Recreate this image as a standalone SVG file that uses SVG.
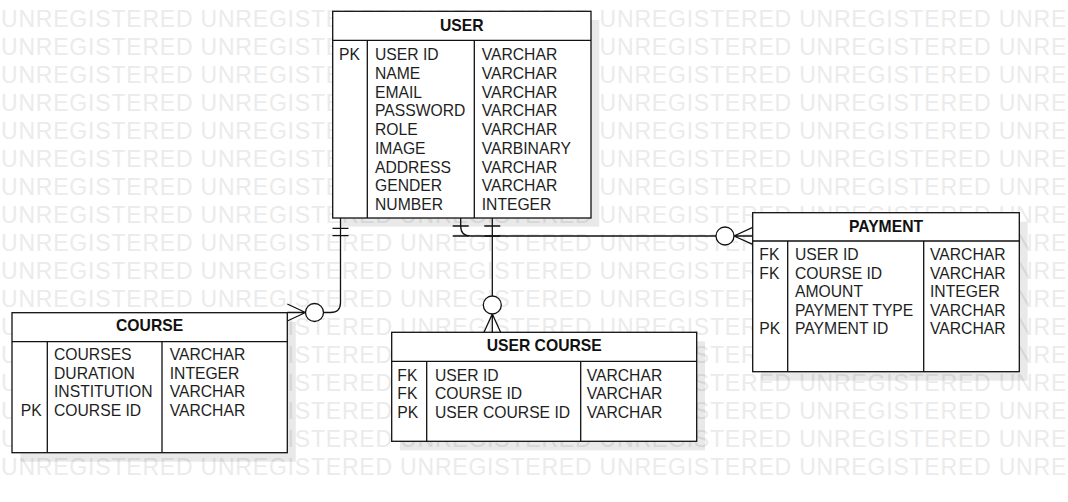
<svg xmlns="http://www.w3.org/2000/svg" width="1068" height="502" viewBox="0 0 1068 502">
<style>
.wm{font-family:"Liberation Sans",Arial,sans-serif;font-size:23px;fill:#ebebeb;letter-spacing:0.8px}
.box{fill:#fff;stroke:#111;stroke-width:1.3}
.ln{stroke:#111;stroke-width:1.3;fill:none}
.sh{fill:#000;fill-opacity:0.085}
.t{font-family:"Liberation Sans",Arial,sans-serif;font-size:15.7px;fill:#1e1e1e}
.h{font-family:"Liberation Sans",Arial,sans-serif;font-size:15.7px;font-weight:bold;fill:#111;text-anchor:middle}
.c{stroke:#111;stroke-width:1.3;fill:none}
.cc{stroke:#111;stroke-width:1.3;fill:#fff}
</style>
<rect width="1068" height="502" fill="#fff"/>
<g id="watermark">
<text class="wm" x="1" y="27">UNREGISTERED UNREGISTERED UNREGISTERED UNREGISTERED UNREGISTERED UNRE</text>
<text class="wm" x="1" y="55">UNREGISTERED UNREGISTERED UNREGISTERED UNREGISTERED UNREGISTERED UNRE</text>
<text class="wm" x="1" y="83">UNREGISTERED UNREGISTERED UNREGISTERED UNREGISTERED UNREGISTERED UNRE</text>
<text class="wm" x="1" y="111">UNREGISTERED UNREGISTERED UNREGISTERED UNREGISTERED UNREGISTERED UNRE</text>
<text class="wm" x="1" y="139">UNREGISTERED UNREGISTERED UNREGISTERED UNREGISTERED UNREGISTERED UNRE</text>
<text class="wm" x="1" y="167">UNREGISTERED UNREGISTERED UNREGISTERED UNREGISTERED UNREGISTERED UNRE</text>
<text class="wm" x="1" y="195">UNREGISTERED UNREGISTERED UNREGISTERED UNREGISTERED UNREGISTERED UNRE</text>
<text class="wm" x="1" y="223">UNREGISTERED UNREGISTERED UNREGISTERED UNREGISTERED UNREGISTERED UNRE</text>
<text class="wm" x="1" y="251">UNREGISTERED UNREGISTERED UNREGISTERED UNREGISTERED UNREGISTERED UNRE</text>
<text class="wm" x="1" y="279">UNREGISTERED UNREGISTERED UNREGISTERED UNREGISTERED UNREGISTERED UNRE</text>
<text class="wm" x="1" y="307">UNREGISTERED UNREGISTERED UNREGISTERED UNREGISTERED UNREGISTERED UNRE</text>
<text class="wm" x="1" y="335">UNREGISTERED UNREGISTERED UNREGISTERED UNREGISTERED UNREGISTERED UNRE</text>
<text class="wm" x="1" y="363">UNREGISTERED UNREGISTERED UNREGISTERED UNREGISTERED UNREGISTERED UNRE</text>
<text class="wm" x="1" y="391">UNREGISTERED UNREGISTERED UNREGISTERED UNREGISTERED UNREGISTERED UNRE</text>
<text class="wm" x="1" y="419">UNREGISTERED UNREGISTERED UNREGISTERED UNREGISTERED UNREGISTERED UNRE</text>
<text class="wm" x="1" y="447">UNREGISTERED UNREGISTERED UNREGISTERED UNREGISTERED UNREGISTERED UNRE</text>
<text class="wm" x="1" y="475">UNREGISTERED UNREGISTERED UNREGISTERED UNREGISTERED UNREGISTERED UNRE</text>
</g>
<g id="user">
<rect class="sh" x="341" y="20" width="258.3" height="206.7"/>
<rect class="box" x="332.7" y="11.3" width="258.3" height="206.7"/>
<path class="ln" d="M332.7 40.3H591M367.3 40.3V218M474.3 40.3V218"/>
<text class="h" x="461.8" y="30.7">USER</text>
<text class="t" x="339" y="60.3">PK</text>
<text class="t" x="375" y="60.3">USER ID</text><text class="t" x="481.7" y="60.3">VARCHAR</text>
<text class="t" x="375" y="79">NAME</text><text class="t" x="481.7" y="79">VARCHAR</text>
<text class="t" x="375" y="97.7">EMAIL</text><text class="t" x="481.7" y="97.7">VARCHAR</text>
<text class="t" x="375" y="116.4">PASSWORD</text><text class="t" x="481.7" y="116.4">VARCHAR</text>
<text class="t" x="375" y="135.1">ROLE</text><text class="t" x="481.7" y="135.1">VARCHAR</text>
<text class="t" x="375" y="153.8">IMAGE</text><text class="t" x="481.7" y="153.8">VARBINARY</text>
<text class="t" x="375" y="172.5">ADDRESS</text><text class="t" x="481.7" y="172.5">VARCHAR</text>
<text class="t" x="375" y="191.2">GENDER</text><text class="t" x="481.7" y="191.2">VARCHAR</text>
<text class="t" x="375" y="209.9">NUMBER</text><text class="t" x="481.7" y="209.9">INTEGER</text>
</g>
<g id="payment">
<rect class="sh" x="761" y="221.7" width="266.6" height="159"/>
<rect class="box" x="752.7" y="212.7" width="266.6" height="159"/>
<path class="ln" d="M752.7 241H1019.3M787.7 241V371.7M923.7 241V371.7"/>
<text class="h" x="886" y="231.7">PAYMENT</text>
<text class="t" x="759.3" y="260">FK</text><text class="t" x="795" y="260">USER ID</text><text class="t" x="930" y="260">VARCHAR</text>
<text class="t" x="759.3" y="278.6">FK</text><text class="t" x="795" y="278.6">COURSE ID</text><text class="t" x="930" y="278.6">VARCHAR</text>
<text class="t" x="795" y="297.2">AMOUNT</text><text class="t" x="930" y="297.2">INTEGER</text>
<text class="t" x="795" y="315.8">PAYMENT TYPE</text><text class="t" x="930" y="315.8">VARCHAR</text>
<text class="t" x="759.3" y="334.4">PK</text><text class="t" x="795" y="334.4">PAYMENT ID</text><text class="t" x="930" y="334.4">VARCHAR</text>
</g>
<g id="course">
<rect class="sh" x="20.5" y="321.7" width="275.3" height="140"/>
<rect class="box" x="12" y="312.7" width="275.3" height="140"/>
<path class="ln" d="M12 341.7H287.3M47.3 341.7V452.7M162 341.7V452.7"/>
<text class="h" x="149.6" y="330.7">COURSE</text>
<text class="t" x="54" y="360">COURSES</text><text class="t" x="169.7" y="360">VARCHAR</text>
<text class="t" x="54" y="378.6">DURATION</text><text class="t" x="169.7" y="378.6">INTEGER</text>
<text class="t" x="54" y="397.2">INSTITUTION</text><text class="t" x="169.7" y="397.2">VARCHAR</text>
<text class="t" x="20.7" y="415.8">PK</text><text class="t" x="54" y="415.8">COURSE ID</text><text class="t" x="169.7" y="415.8">VARCHAR</text>
</g>
<g id="user-course">
<rect class="sh" x="400" y="341.3" width="305" height="109"/>
<rect class="box" x="391.7" y="332.3" width="305" height="109"/>
<path class="ln" d="M391.7 361.3H696.7M426.7 361.3V441.3M580.7 361.3V441.3"/>
<text class="h" x="544.2" y="350.7">USER COURSE</text>
<text class="t" x="397.3" y="380.7">FK</text><text class="t" x="435" y="380.7">USER ID</text><text class="t" x="586.7" y="380.7">VARCHAR</text>
<text class="t" x="397.3" y="399.3">FK</text><text class="t" x="435" y="399.3">COURSE ID</text><text class="t" x="586.7" y="399.3">VARCHAR</text>
<text class="t" x="397.3" y="417.9">PK</text><text class="t" x="435" y="417.9">USER COURSE ID</text><text class="t" x="586.7" y="417.9">VARCHAR</text>
</g>
<g id="connectors">
<g id="user-course-link">
<path class="c" d="M340.5 218V302.5Q340.5 312.5 330.5 312.5H323.5"/>
<path class="c" d="M332.5 228.3H348.5M332.5 235.7H348.5"/>
<circle class="cc" cx="314.5" cy="312.5" r="9"/>
<path class="c" d="M305.5 312.5H287.3M305.5 312.5L287.3 304M305.5 312.5L287.3 321"/>
</g>
<g id="user-usercourse-link">
<path class="c" d="M492.3 218V296"/>
<path class="c" d="M484.3 226H500.3M484.3 236H500.3"/>
<circle class="cc" cx="492.3" cy="305" r="9"/>
<path class="c" d="M492.3 314V332.3M492.3 314L484 332.3M492.3 314L500.6 332.3"/>
</g>
<g id="user-payment-link">
<path class="c" d="M460.7 218V226Q460.7 236 470.7 236H716.3"/>
<path class="c" d="M452.7 226H468.7M452.7 236H468.7"/>
<circle class="cc" cx="725" cy="236" r="9"/>
<path class="c" d="M734 236H752.7M734 236L752.7 227.3M734 236L752.7 244.3"/>
</g>
</g>
</svg>
